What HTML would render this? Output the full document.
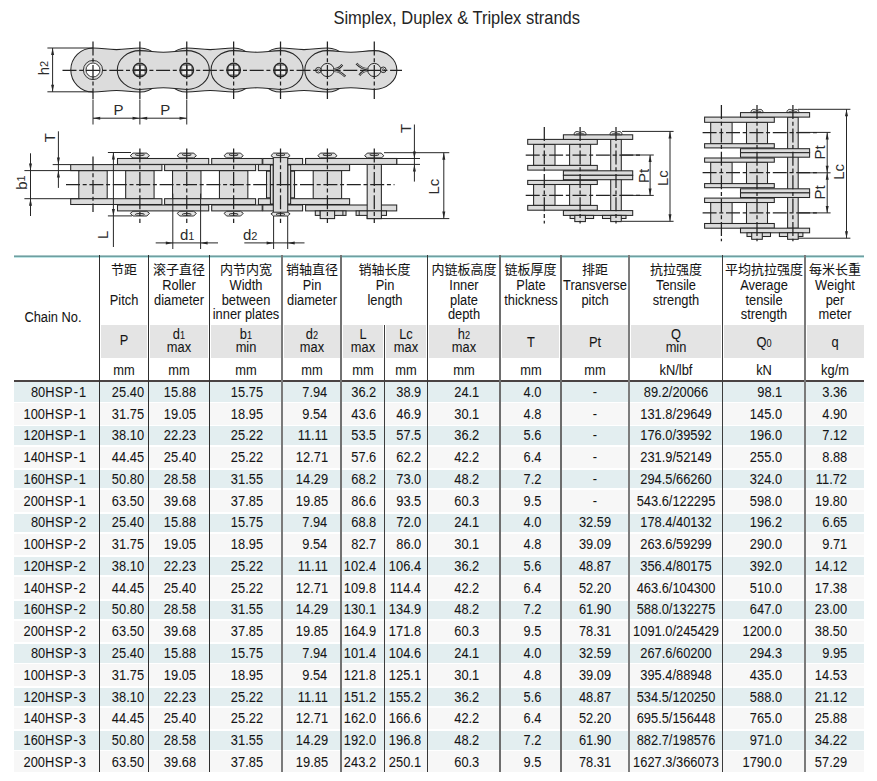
<!DOCTYPE html>
<html><head><meta charset="utf-8"><title>Simplex, Duplex &amp; Triplex strands</title>
<style>
html,body{margin:0;padding:0;background:#fff}
body{width:877px;height:781px;position:relative;overflow:hidden;font-family:"Liberation Sans", "Noto Sans CJK SC", sans-serif;color:#141414}
.t,.tc{-webkit-text-stroke:0.05px #1e1e1e}
.t{position:absolute;white-space:nowrap;font-size:14.0px;line-height:16px;height:16px;transform:scaleX(0.918);transform-origin:50% 50%}
.t.rr{transform-origin:100% 50%}
.t.ll{transform-origin:0 50%}
.tc{position:absolute;white-space:nowrap;font-size:13px;line-height:16px;height:16px}
.r{position:absolute}
.s{font-size:10px}
</style></head><body>
<svg width="877" height="258" viewBox="0 0 877 258" style="position:absolute;left:0;top:0" font-family='"Liberation Sans", sans-serif' fill="#2b2b2b"><text x="0" y="0" font-size="17.5" fill="#242424" transform="translate(333.4,23.6) scale(0.943,1)">Simplex, Duplex &amp; Triplex strands</text>
<path d="M93.00,48.00 C103.00,48.00 106.44,49.60 116.44,49.60 C126.44,49.60 129.88,48.00 139.88,48.00 A22.20,22.00 0 0 1 139.88,92.00 C129.88,92.00 126.44,90.40 116.44,90.40 C106.44,90.40 103.00,92.00 93.00,92.00 A22.20,22.00 0 0 1 93.00,48.00 Z" fill="#dcdcdc" stroke="#262626" stroke-width="1.05"/>
<path d="M186.76,48.00 C196.76,48.00 200.20,49.60 210.20,49.60 C220.20,49.60 223.64,48.00 233.64,48.00 A22.20,22.00 0 0 1 233.64,92.00 C223.64,92.00 220.20,90.40 210.20,90.40 C200.20,90.40 196.76,92.00 186.76,92.00 A22.20,22.00 0 0 1 186.76,48.00 Z" fill="#dcdcdc" stroke="#262626" stroke-width="1.05"/>
<path d="M280.52,48.00 C290.52,48.00 293.96,49.60 303.96,49.60 C313.96,49.60 317.40,48.00 327.40,48.00 A22.20,22.00 0 0 1 327.40,92.00 C317.40,92.00 313.96,90.40 303.96,90.40 C293.96,90.40 290.52,92.00 280.52,92.00 A22.20,22.00 0 0 1 280.52,48.00 Z" fill="#dcdcdc" stroke="#262626" stroke-width="1.05"/>
<path d="M139.88,50.60 C149.88,50.60 153.32,52.20 163.32,52.20 C173.32,52.20 176.76,50.60 186.76,50.60 A22.60,19.40 0 0 1 186.76,89.40 C176.76,89.40 173.32,87.80 163.32,87.80 C153.32,87.80 149.88,89.40 139.88,89.40 A22.60,19.40 0 0 1 139.88,50.60 Z" fill="#dcdcdc" stroke="#262626" stroke-width="1.05"/>
<path d="M233.64,50.60 C243.64,50.60 247.08,52.20 257.08,52.20 C267.08,52.20 270.52,50.60 280.52,50.60 A22.60,19.40 0 0 1 280.52,89.40 C270.52,89.40 267.08,87.80 257.08,87.80 C247.08,87.80 243.64,89.40 233.64,89.40 A22.60,19.40 0 0 1 233.64,50.60 Z" fill="#dcdcdc" stroke="#262626" stroke-width="1.05"/>
<path d="M327.40,50.60 C337.40,50.60 340.84,52.20 350.84,52.20 C360.84,52.20 364.28,50.60 374.28,50.60 A22.60,19.40 0 0 1 374.28,89.40 C364.28,89.40 360.84,87.80 350.84,87.80 C340.84,87.80 337.40,89.40 327.40,89.40 A22.60,19.40 0 0 1 327.40,50.60 Z" fill="#dcdcdc" stroke="#262626" stroke-width="1.05"/>
<circle cx="93.00" cy="70.0" r="9.6" fill="#dcdcdc" stroke="#262626" stroke-width="0.9"/>
<circle cx="93.00" cy="70.0" r="7.0" fill="#fff" stroke="#262626" stroke-width="0.9"/>
<circle cx="139.88" cy="70.0" r="6.8" fill="#8a8a8a" stroke="#262626" stroke-width="1.3"/>
<rect x="135.43" y="65.85" width="3.9" height="3.7" fill="#ededed"/>
<rect x="135.43" y="70.55" width="3.9" height="3.7" fill="#ededed"/>
<rect x="140.43" y="65.85" width="3.9" height="3.7" fill="#ededed"/>
<rect x="140.43" y="70.55" width="3.9" height="3.7" fill="#ededed"/>
<path d="M133.38,70.0 H146.38 M139.88,63.5 V76.5" stroke="#262626" stroke-width="1.0"/>
<circle cx="186.76" cy="70.0" r="6.8" fill="#8a8a8a" stroke="#262626" stroke-width="1.3"/>
<rect x="182.31" y="65.85" width="3.9" height="3.7" fill="#ededed"/>
<rect x="182.31" y="70.55" width="3.9" height="3.7" fill="#ededed"/>
<rect x="187.31" y="65.85" width="3.9" height="3.7" fill="#ededed"/>
<rect x="187.31" y="70.55" width="3.9" height="3.7" fill="#ededed"/>
<path d="M180.26,70.0 H193.26 M186.76,63.5 V76.5" stroke="#262626" stroke-width="1.0"/>
<circle cx="233.64" cy="70.0" r="6.8" fill="#8a8a8a" stroke="#262626" stroke-width="1.3"/>
<rect x="229.19" y="65.85" width="3.9" height="3.7" fill="#ededed"/>
<rect x="229.19" y="70.55" width="3.9" height="3.7" fill="#ededed"/>
<rect x="234.19" y="65.85" width="3.9" height="3.7" fill="#ededed"/>
<rect x="234.19" y="70.55" width="3.9" height="3.7" fill="#ededed"/>
<path d="M227.14,70.0 H240.14 M233.64,63.5 V76.5" stroke="#262626" stroke-width="1.0"/>
<circle cx="280.52" cy="70.0" r="6.8" fill="#8a8a8a" stroke="#262626" stroke-width="1.3"/>
<rect x="276.07" y="65.85" width="3.9" height="3.7" fill="#ededed"/>
<rect x="276.07" y="70.55" width="3.9" height="3.7" fill="#ededed"/>
<rect x="281.07" y="65.85" width="3.9" height="3.7" fill="#ededed"/>
<rect x="281.07" y="70.55" width="3.9" height="3.7" fill="#ededed"/>
<path d="M274.02,70.0 H287.02 M280.52,63.5 V76.5" stroke="#262626" stroke-width="1.0"/>
<circle cx="327.40" cy="70.0" r="6.6" fill="#e2e2e2" stroke="#262626" stroke-width="1.0"/>
<circle cx="374.28" cy="70.0" r="6.6" fill="#e2e2e2" stroke="#262626" stroke-width="1.0"/>
<circle cx="318.40" cy="70.2" r="2.8" fill="#ececec" stroke="#262626" stroke-width="1.0"/><circle cx="318.40" cy="70.2" r="1.1" fill="none" stroke="#262626" stroke-width="0.8"/><path d="M333.60,69.30 Q338.90,69.40 342.30,64.80 M333.60,70.80 Q339.90,70.80 345.30,76.50" fill="none" stroke="#262626" stroke-width="2.3"/><path d="M333.60,69.30 Q338.90,69.40 342.30,64.80 M333.60,70.80 Q339.90,70.80 345.30,76.50" fill="none" stroke="#e8e8e8" stroke-width="0.7"/>
<g transform="rotate(180 350.84 70.0)"><circle cx="318.40" cy="70.2" r="2.8" fill="#ececec" stroke="#262626" stroke-width="1.0"/><circle cx="318.40" cy="70.2" r="1.1" fill="none" stroke="#262626" stroke-width="0.8"/><path d="M333.60,69.30 Q338.90,69.40 342.30,64.80 M333.60,70.80 Q339.90,70.80 345.30,76.50" fill="none" stroke="#262626" stroke-width="2.3"/><path d="M333.60,69.30 Q338.90,69.40 342.30,64.80 M333.60,70.80 Q339.90,70.80 345.30,76.50" fill="none" stroke="#e8e8e8" stroke-width="0.7"/></g>
<line x1="62.50" y1="70.35" x2="402.00" y2="70.35" stroke="#222" stroke-width="1.25" stroke-dasharray="14,2.7,4,2.7"/>
<line x1="93.00" y1="41.50" x2="93.00" y2="99.00" stroke="#222" stroke-width="1.25" stroke-dasharray="14,2.7,4,2.7"/>
<line x1="139.88" y1="41.50" x2="139.88" y2="99.00" stroke="#222" stroke-width="1.25" stroke-dasharray="14,2.7,4,2.7"/>
<line x1="186.76" y1="41.50" x2="186.76" y2="99.00" stroke="#222" stroke-width="1.25" stroke-dasharray="14,2.7,4,2.7"/>
<line x1="233.64" y1="41.50" x2="233.64" y2="99.00" stroke="#222" stroke-width="1.25" stroke-dasharray="14,2.7,4,2.7"/>
<line x1="280.52" y1="41.50" x2="280.52" y2="99.00" stroke="#222" stroke-width="1.25" stroke-dasharray="14,2.7,4,2.7"/>
<line x1="327.40" y1="41.50" x2="327.40" y2="99.00" stroke="#222" stroke-width="1.25" stroke-dasharray="14,2.7,4,2.7"/>
<line x1="374.28" y1="41.50" x2="374.28" y2="99.00" stroke="#222" stroke-width="1.25" stroke-dasharray="14,2.7,4,2.7"/>
<line x1="47.40" y1="48.00" x2="93.00" y2="48.00" stroke="#262626" stroke-width="1.0"/>
<line x1="47.40" y1="91.80" x2="93.00" y2="91.80" stroke="#262626" stroke-width="1.0"/>
<line x1="52.60" y1="48.00" x2="52.60" y2="91.80" stroke="#262626" stroke-width="1.0"/>
<path d="M52.60,48.00 L54.10,55.00 L51.10,55.00 Z" fill="#262626"/>
<path d="M52.60,91.80 L51.10,84.80 L54.10,84.80 Z" fill="#262626"/>
<text x="0" y="0" font-size="15" text-anchor="middle" dominant-baseline="central" transform="translate(43.50,68.00) rotate(-90)">h<tspan font-size="11">2</tspan></text>
<line x1="93.00" y1="99.50" x2="93.00" y2="124.50" stroke="#262626" stroke-width="1.0"/>
<line x1="139.88" y1="99.50" x2="139.88" y2="124.50" stroke="#262626" stroke-width="1.0"/>
<line x1="186.76" y1="99.50" x2="186.76" y2="124.50" stroke="#262626" stroke-width="1.0"/>
<line x1="93.00" y1="118.20" x2="186.76" y2="118.20" stroke="#262626" stroke-width="1.0"/>
<path d="M93.20,118.20 L100.20,116.70 L100.20,119.70 Z" fill="#262626"/>
<path d="M139.58,118.20 L132.58,119.70 L132.58,116.70 Z" fill="#262626"/>
<path d="M140.18,118.20 L147.18,116.70 L147.18,119.70 Z" fill="#262626"/>
<path d="M186.56,118.20 L179.56,119.70 L179.56,116.70 Z" fill="#262626"/>
<text x="118.44" y="114.80" font-size="15" text-anchor="middle">P</text>
<text x="165.32" y="114.80" font-size="15" text-anchor="middle">P</text>
<rect x="78.80" y="170.60" width="28.40" height="28.10" fill="#dcdcdc" stroke="#262626" stroke-width="1.05"/>
<rect x="125.68" y="170.60" width="28.40" height="28.10" fill="#dcdcdc" stroke="#262626" stroke-width="1.05"/>
<rect x="172.56" y="170.60" width="28.40" height="28.10" fill="#dcdcdc" stroke="#262626" stroke-width="1.05"/>
<rect x="219.44" y="170.60" width="28.40" height="28.10" fill="#dcdcdc" stroke="#262626" stroke-width="1.05"/>
<rect x="313.20" y="170.60" width="28.40" height="28.10" fill="#dcdcdc" stroke="#262626" stroke-width="1.05"/>
<rect x="70.70" y="164.60" width="91.20" height="6.00" fill="#dcdcdc" stroke="#262626" stroke-width="1.05"/>
<rect x="70.70" y="198.70" width="91.20" height="5.80" fill="#dcdcdc" stroke="#262626" stroke-width="1.05"/>
<rect x="164.60" y="164.60" width="91.00" height="6.00" fill="#dcdcdc" stroke="#262626" stroke-width="1.05"/>
<rect x="164.60" y="198.70" width="91.00" height="5.80" fill="#dcdcdc" stroke="#262626" stroke-width="1.05"/>
<rect x="258.40" y="164.60" width="91.20" height="6.00" fill="#dcdcdc" stroke="#262626" stroke-width="1.05"/>
<rect x="258.40" y="198.70" width="91.20" height="5.80" fill="#dcdcdc" stroke="#262626" stroke-width="1.05"/>
<rect x="117.50" y="158.50" width="91.20" height="5.90" fill="#dcdcdc" stroke="#262626" stroke-width="1.05"/>
<rect x="117.50" y="205.00" width="91.20" height="5.90" fill="#dcdcdc" stroke="#262626" stroke-width="1.05"/>
<rect x="211.70" y="158.50" width="50.50" height="5.90" fill="#dcdcdc" stroke="#262626" stroke-width="1.05"/>
<rect x="211.70" y="205.00" width="50.50" height="5.90" fill="#dcdcdc" stroke="#262626" stroke-width="1.05"/>
<rect x="262.80" y="158.50" width="39.80" height="5.90" fill="#dcdcdc" stroke="#262626" stroke-width="1.05"/>
<rect x="262.80" y="205.00" width="39.80" height="5.90" fill="#dcdcdc" stroke="#262626" stroke-width="1.05"/>
<rect x="305.60" y="158.50" width="91.10" height="5.90" fill="#dcdcdc" stroke="#262626" stroke-width="1.05"/>
<rect x="305.60" y="205.00" width="91.10" height="5.90" fill="#dcdcdc" stroke="#262626" stroke-width="1.05"/>
<rect x="266.52" y="171.20" width="3.90" height="26.60" fill="#dcdcdc" stroke="#262626" stroke-width="1.05"/>
<rect x="290.62" y="171.20" width="3.90" height="26.60" fill="#dcdcdc" stroke="#262626" stroke-width="1.05"/>
<rect x="270.42" y="165.00" width="2.90" height="39.00" fill="#dcdcdc" stroke="#262626" stroke-width="1.05"/>
<rect x="287.72" y="165.00" width="2.90" height="39.00" fill="#dcdcdc" stroke="#262626" stroke-width="1.05"/>
<rect x="273.32" y="155.50" width="14.40" height="58.10" fill="#dcdcdc" stroke="#262626" stroke-width="1.05"/>
<path d="M130.28,155.80 L132.88,153.10 L146.88,153.10 L149.48,155.80 L146.88,157.90 L132.88,157.90 Z" fill="#e4e4e4" stroke="#262626" stroke-width="0.95"/>
<ellipse cx="139.88" cy="154.70" rx="4.5" ry="1.0" fill="#f4f4f4" stroke="#262626" stroke-width="0.9"/>
<path d="M177.16,155.80 L179.76,153.10 L193.76,153.10 L196.36,155.80 L193.76,157.90 L179.76,157.90 Z" fill="#e4e4e4" stroke="#262626" stroke-width="0.95"/>
<ellipse cx="186.76" cy="154.70" rx="4.5" ry="1.0" fill="#f4f4f4" stroke="#262626" stroke-width="0.9"/>
<path d="M224.04,155.80 L226.64,153.10 L240.64,153.10 L243.24,155.80 L240.64,157.90 L226.64,157.90 Z" fill="#e4e4e4" stroke="#262626" stroke-width="0.95"/>
<ellipse cx="233.64" cy="154.70" rx="4.5" ry="1.0" fill="#f4f4f4" stroke="#262626" stroke-width="0.9"/>
<path d="M317.80,155.80 L320.40,153.10 L334.40,153.10 L337.00,155.80 L334.40,157.90 L320.40,157.90 Z" fill="#e4e4e4" stroke="#262626" stroke-width="0.95"/>
<ellipse cx="327.40" cy="154.70" rx="4.5" ry="1.0" fill="#f4f4f4" stroke="#262626" stroke-width="0.9"/>
<path d="M364.68,155.80 L367.28,153.10 L381.28,153.10 L383.88,155.80 L381.28,157.90 L367.28,157.90 Z" fill="#e4e4e4" stroke="#262626" stroke-width="0.95"/>
<ellipse cx="374.28" cy="154.70" rx="4.5" ry="1.0" fill="#f4f4f4" stroke="#262626" stroke-width="0.9"/>
<path d="M130.28,213.35 L132.88,211.30 L146.88,211.30 L149.48,213.35 L146.88,216.00 L132.88,216.00 Z" fill="#e4e4e4" stroke="#262626" stroke-width="0.95"/>
<ellipse cx="139.88" cy="214.40" rx="4.5" ry="1.0" fill="#f4f4f4" stroke="#262626" stroke-width="0.9"/>
<path d="M177.16,213.35 L179.76,211.30 L193.76,211.30 L196.36,213.35 L193.76,216.00 L179.76,216.00 Z" fill="#e4e4e4" stroke="#262626" stroke-width="0.95"/>
<ellipse cx="186.76" cy="214.40" rx="4.5" ry="1.0" fill="#f4f4f4" stroke="#262626" stroke-width="0.9"/>
<path d="M224.04,213.35 L226.64,211.30 L240.64,211.30 L243.24,213.35 L240.64,216.00 L226.64,216.00 Z" fill="#e4e4e4" stroke="#262626" stroke-width="0.95"/>
<ellipse cx="233.64" cy="214.40" rx="4.5" ry="1.0" fill="#f4f4f4" stroke="#262626" stroke-width="0.9"/>
<path d="M270.92,155.65 L273.52,153.10 L287.52,153.10 L290.12,155.65 L287.52,157.60 L273.52,157.60 Z" fill="#e4e4e4" stroke="#262626" stroke-width="0.95"/>
<ellipse cx="280.52" cy="154.70" rx="4.5" ry="1.0" fill="#f4f4f4" stroke="#262626" stroke-width="0.9"/>
<path d="M270.92,213.80 L273.52,212.20 L287.52,212.20 L290.12,213.80 L287.52,216.00 L273.52,216.00 Z" fill="#e4e4e4" stroke="#262626" stroke-width="0.95"/>
<ellipse cx="280.52" cy="214.40" rx="4.5" ry="1.0" fill="#f4f4f4" stroke="#262626" stroke-width="0.9"/>
<rect x="367.18" y="164.40" width="14.20" height="54.20" fill="#dcdcdc" stroke="#262626" stroke-width="1.05"/>
<rect x="305.60" y="158.50" width="91.10" height="5.90" fill="#dcdcdc" stroke="#262626" stroke-width="1.05"/>
<rect x="315.30" y="210.90" width="30.70" height="4.50" fill="#dcdcdc" stroke="#262626" stroke-width="1.05"/>
<line x1="320.20" y1="210.90" x2="320.20" y2="215.40" stroke="#262626" stroke-width="1.0"/>
<line x1="342.90" y1="210.90" x2="342.90" y2="215.40" stroke="#262626" stroke-width="1.0"/>
<rect x="320.20" y="210.90" width="14.40" height="7.70" fill="#dcdcdc" stroke="#262626" stroke-width="1.05"/>
<rect x="356.10" y="210.90" width="30.40" height="4.50" fill="#dcdcdc" stroke="#262626" stroke-width="1.05"/>
<line x1="359.20" y1="210.90" x2="359.20" y2="215.40" stroke="#262626" stroke-width="1.0"/>
<rect x="367.18" y="210.90" width="14.20" height="7.70" fill="#dcdcdc" stroke="#262626" stroke-width="1.05"/>
<line x1="66.00" y1="184.60" x2="394.50" y2="184.60" stroke="#222" stroke-width="1.25" stroke-dasharray="14,2.7,4,2.7"/>
<line x1="93.00" y1="156.60" x2="93.00" y2="212.00" stroke="#222" stroke-width="1.25" stroke-dasharray="14,2.7,4,2.7"/>
<line x1="139.88" y1="148.50" x2="139.88" y2="223.00" stroke="#222" stroke-width="1.25" stroke-dasharray="14,2.7,4,2.7"/>
<line x1="186.76" y1="148.50" x2="186.76" y2="223.00" stroke="#222" stroke-width="1.25" stroke-dasharray="14,2.7,4,2.7"/>
<line x1="233.64" y1="148.50" x2="233.64" y2="223.00" stroke="#222" stroke-width="1.25" stroke-dasharray="14,2.7,4,2.7"/>
<line x1="280.52" y1="148.50" x2="280.52" y2="223.00" stroke="#222" stroke-width="1.25" stroke-dasharray="14,2.7,4,2.7"/>
<line x1="327.40" y1="148.50" x2="327.40" y2="223.00" stroke="#222" stroke-width="1.25" stroke-dasharray="14,2.7,4,2.7"/>
<line x1="374.28" y1="148.50" x2="374.28" y2="223.00" stroke="#222" stroke-width="1.25" stroke-dasharray="14,2.7,4,2.7"/>
<line x1="52.70" y1="164.60" x2="70.70" y2="164.60" stroke="#262626" stroke-width="1.0"/>
<line x1="24.40" y1="170.60" x2="80.00" y2="170.60" stroke="#262626" stroke-width="1.0"/>
<line x1="24.40" y1="198.70" x2="80.00" y2="198.70" stroke="#262626" stroke-width="1.0"/>
<line x1="58.40" y1="131.30" x2="58.40" y2="187.90" stroke="#262626" stroke-width="1.0"/>
<path d="M58.40,164.60 L56.90,157.60 L59.90,157.60 Z" fill="#262626"/>
<path d="M58.40,170.60 L59.90,177.60 L56.90,177.60 Z" fill="#262626"/>
<text x="0" y="0" font-size="15" text-anchor="middle" dominant-baseline="central" transform="translate(49.50,137.60) rotate(-90)">T</text>
<line x1="30.50" y1="153.30" x2="30.50" y2="216.00" stroke="#262626" stroke-width="1.0"/>
<path d="M30.50,170.60 L29.00,163.60 L32.00,163.60 Z" fill="#262626"/>
<path d="M30.50,198.70 L32.00,205.70 L29.00,205.70 Z" fill="#262626"/>
<text x="0" y="0" font-size="15" text-anchor="middle" dominant-baseline="central" transform="translate(21.20,182.60) rotate(-90)">b<tspan font-size="11">1</tspan></text>
<line x1="107.90" y1="152.50" x2="131.00" y2="152.50" stroke="#262626" stroke-width="1.0"/>
<line x1="107.90" y1="215.90" x2="132.00" y2="215.90" stroke="#262626" stroke-width="1.0"/>
<line x1="113.40" y1="152.50" x2="113.40" y2="247.00" stroke="#262626" stroke-width="1.0"/>
<path d="M113.40,152.50 L114.90,159.50 L111.90,159.50 Z" fill="#262626"/>
<path d="M113.40,215.90 L111.90,208.90 L114.90,208.90 Z" fill="#262626"/>
<text x="0" y="0" font-size="15" text-anchor="middle" dominant-baseline="central" transform="translate(102.50,234.80) rotate(-90)">L</text>
<line x1="172.80" y1="193.60" x2="172.80" y2="249.00" stroke="#262626" stroke-width="1.0"/>
<line x1="200.60" y1="193.60" x2="200.60" y2="249.00" stroke="#262626" stroke-width="1.0"/>
<line x1="155.70" y1="242.90" x2="218.00" y2="242.90" stroke="#262626" stroke-width="1.0"/>
<path d="M172.80,242.90 L165.80,244.40 L165.80,241.40 Z" fill="#262626"/>
<path d="M200.60,242.90 L207.60,241.40 L207.60,244.40 Z" fill="#262626"/>
<text x="187.20" y="239.70" font-size="15" text-anchor="middle">d<tspan font-size="11">1</tspan></text>
<line x1="273.60" y1="216.00" x2="273.60" y2="249.00" stroke="#262626" stroke-width="1.0"/>
<line x1="287.70" y1="216.00" x2="287.70" y2="249.00" stroke="#262626" stroke-width="1.0"/>
<line x1="244.30" y1="242.90" x2="304.50" y2="242.90" stroke="#262626" stroke-width="1.0"/>
<path d="M273.60,242.90 L266.60,244.40 L266.60,241.40 Z" fill="#262626"/>
<path d="M287.70,242.90 L294.70,241.40 L294.70,244.40 Z" fill="#262626"/>
<text x="250.20" y="239.70" font-size="15" text-anchor="middle">d<tspan font-size="11">2</tspan></text>
<line x1="397.00" y1="158.50" x2="420.00" y2="158.50" stroke="#262626" stroke-width="1.0"/>
<line x1="397.00" y1="164.40" x2="420.00" y2="164.40" stroke="#262626" stroke-width="1.0"/>
<line x1="414.40" y1="124.50" x2="414.40" y2="181.60" stroke="#262626" stroke-width="1.0"/>
<path d="M414.40,158.50 L412.90,151.50 L415.90,151.50 Z" fill="#262626"/>
<path d="M414.40,164.40 L415.90,171.40 L412.90,171.40 Z" fill="#262626"/>
<text x="0" y="0" font-size="15" text-anchor="middle" dominant-baseline="central" transform="translate(405.30,128.40) rotate(-90)">T</text>
<line x1="384.00" y1="152.70" x2="449.30" y2="152.70" stroke="#262626" stroke-width="1.0"/>
<line x1="381.70" y1="218.60" x2="449.30" y2="218.60" stroke="#262626" stroke-width="1.0"/>
<line x1="443.80" y1="152.70" x2="443.80" y2="218.60" stroke="#262626" stroke-width="1.0"/>
<path d="M443.80,152.70 L445.30,159.70 L442.30,159.70 Z" fill="#262626"/>
<path d="M443.80,218.60 L442.30,211.60 L445.30,211.60 Z" fill="#262626"/>
<text x="0" y="0" font-size="15" text-anchor="middle" dominant-baseline="central" transform="translate(433.00,186.70) rotate(-90)">Lc</text>
<rect x="533.60" y="144.30" width="21.40" height="21.10" fill="#dcdcdc" stroke="#262626" stroke-width="1.05"/>
<rect x="569.60" y="144.30" width="21.00" height="21.10" fill="#dcdcdc" stroke="#262626" stroke-width="1.05"/>
<rect x="533.60" y="184.50" width="21.40" height="20.90" fill="#dcdcdc" stroke="#262626" stroke-width="1.05"/>
<rect x="569.60" y="184.50" width="21.00" height="20.90" fill="#dcdcdc" stroke="#262626" stroke-width="1.05"/>
<rect x="527.70" y="139.40" width="69.60" height="4.90" fill="#dcdcdc" stroke="#262626" stroke-width="1.05"/>
<rect x="527.70" y="165.40" width="69.60" height="4.70" fill="#dcdcdc" stroke="#262626" stroke-width="1.05"/>
<rect x="527.70" y="180.40" width="69.60" height="4.10" fill="#dcdcdc" stroke="#262626" stroke-width="1.05"/>
<rect x="527.70" y="205.40" width="69.60" height="4.80" fill="#dcdcdc" stroke="#262626" stroke-width="1.05"/>
<rect x="610.70" y="139.40" width="10.60" height="71.20" fill="#dcdcdc" stroke="#262626" stroke-width="1.05"/>
<rect x="563.40" y="134.80" width="69.30" height="4.60" fill="#dcdcdc" stroke="#262626" stroke-width="1.05"/>
<rect x="563.40" y="170.80" width="69.30" height="4.50" fill="#dcdcdc" stroke="#262626" stroke-width="1.05"/>
<rect x="563.40" y="175.30" width="69.30" height="4.40" fill="#dcdcdc" stroke="#262626" stroke-width="1.05"/>
<rect x="563.40" y="210.60" width="69.30" height="4.80" fill="#dcdcdc" stroke="#262626" stroke-width="1.05"/>
<path d="M574.20,134.80 C573.80,131.30 577.50,130.80 579.50,132.30 L580.70,132.30 C582.70,130.80 586.40,131.30 586.00,134.80 Z" fill="#ededed" stroke="#262626" stroke-width="1.0"/>
<path d="M575.90,133.90 Q580.10,132.60 584.30,133.90" fill="none" stroke="#262626" stroke-width="0.7"/>
<path d="M610.10,134.80 C609.70,131.30 613.40,130.80 615.40,132.30 L616.60,132.30 C618.60,130.80 622.30,131.30 621.90,134.80 Z" fill="#ededed" stroke="#262626" stroke-width="1.0"/>
<path d="M611.80,133.90 Q616.00,132.60 620.20,133.90" fill="none" stroke="#262626" stroke-width="0.7"/>
<rect x="570.10" y="215.40" width="23.50" height="3.10" fill="#dcdcdc" stroke="#262626" stroke-width="1.05"/>
<rect x="574.80" y="215.40" width="10.60" height="6.20" fill="#dcdcdc" stroke="#262626" stroke-width="1.05"/>
<rect x="602.50" y="215.40" width="23.50" height="3.10" fill="#dcdcdc" stroke="#262626" stroke-width="1.05"/>
<rect x="610.70" y="215.40" width="10.60" height="6.20" fill="#dcdcdc" stroke="#262626" stroke-width="1.05"/>
<line x1="525.70" y1="155.00" x2="642.70" y2="155.00" stroke="#222" stroke-width="1.25" stroke-dasharray="14,2.7,4,2.7"/>
<line x1="525.70" y1="195.40" x2="642.70" y2="195.40" stroke="#222" stroke-width="1.25" stroke-dasharray="14,2.7,4,2.7"/>
<line x1="544.30" y1="127.10" x2="544.30" y2="223.60" stroke="#222" stroke-width="1.25" stroke-dasharray="14,2.7,4,2.7"/>
<line x1="580.10" y1="127.10" x2="580.10" y2="223.60" stroke="#222" stroke-width="1.25" stroke-dasharray="14,2.7,4,2.7"/>
<line x1="616.00" y1="127.10" x2="616.00" y2="223.60" stroke="#222" stroke-width="1.25" stroke-dasharray="14,2.7,4,2.7"/>
<line x1="622.00" y1="131.40" x2="673.60" y2="131.40" stroke="#262626" stroke-width="1.0"/>
<line x1="622.00" y1="221.30" x2="673.60" y2="221.30" stroke="#262626" stroke-width="1.0"/>
<line x1="670.00" y1="131.40" x2="670.00" y2="221.30" stroke="#262626" stroke-width="1.0"/>
<path d="M670.00,131.40 L671.50,138.40 L668.50,138.40 Z" fill="#262626"/>
<path d="M670.00,221.30 L668.50,214.30 L671.50,214.30 Z" fill="#262626"/>
<text x="0" y="0" font-size="15" text-anchor="middle" dominant-baseline="central" transform="translate(662.00,178.20) rotate(-90)">Lc</text>
<line x1="622.00" y1="155.00" x2="653.80" y2="155.00" stroke="#262626" stroke-width="1.0"/>
<line x1="622.00" y1="195.40" x2="653.80" y2="195.40" stroke="#262626" stroke-width="1.0"/>
<line x1="650.10" y1="155.00" x2="650.10" y2="195.40" stroke="#262626" stroke-width="1.0"/>
<path d="M650.10,155.00 L651.60,162.00 L648.60,162.00 Z" fill="#262626"/>
<path d="M650.10,195.40 L648.60,188.40 L651.60,188.40 Z" fill="#262626"/>
<text x="0" y="0" font-size="15" text-anchor="middle" dominant-baseline="central" transform="translate(643.30,176.00) rotate(-90)">Pt</text>
<rect x="710.70" y="122.30" width="21.40" height="21.40" fill="#dcdcdc" stroke="#262626" stroke-width="1.05"/>
<rect x="746.50" y="122.30" width="21.00" height="21.40" fill="#dcdcdc" stroke="#262626" stroke-width="1.05"/>
<rect x="710.70" y="162.20" width="21.40" height="21.40" fill="#dcdcdc" stroke="#262626" stroke-width="1.05"/>
<rect x="746.50" y="162.20" width="21.00" height="21.40" fill="#dcdcdc" stroke="#262626" stroke-width="1.05"/>
<rect x="710.70" y="202.50" width="21.40" height="21.00" fill="#dcdcdc" stroke="#262626" stroke-width="1.05"/>
<rect x="746.50" y="202.50" width="21.00" height="21.00" fill="#dcdcdc" stroke="#262626" stroke-width="1.05"/>
<rect x="704.60" y="117.10" width="69.70" height="5.20" fill="#dcdcdc" stroke="#262626" stroke-width="1.05"/>
<rect x="704.60" y="143.70" width="69.70" height="4.20" fill="#dcdcdc" stroke="#262626" stroke-width="1.05"/>
<rect x="704.60" y="158.00" width="69.70" height="4.20" fill="#dcdcdc" stroke="#262626" stroke-width="1.05"/>
<rect x="704.60" y="183.60" width="69.70" height="4.10" fill="#dcdcdc" stroke="#262626" stroke-width="1.05"/>
<rect x="704.60" y="198.10" width="69.70" height="4.40" fill="#dcdcdc" stroke="#262626" stroke-width="1.05"/>
<rect x="704.60" y="223.50" width="69.70" height="4.70" fill="#dcdcdc" stroke="#262626" stroke-width="1.05"/>
<rect x="787.60" y="117.10" width="10.60" height="111.10" fill="#dcdcdc" stroke="#262626" stroke-width="1.05"/>
<rect x="740.50" y="112.60" width="69.10" height="4.50" fill="#dcdcdc" stroke="#262626" stroke-width="1.05"/>
<rect x="740.50" y="148.70" width="69.10" height="4.00" fill="#dcdcdc" stroke="#262626" stroke-width="1.05"/>
<rect x="740.50" y="152.70" width="69.10" height="4.50" fill="#dcdcdc" stroke="#262626" stroke-width="1.05"/>
<rect x="740.50" y="188.80" width="69.10" height="4.10" fill="#dcdcdc" stroke="#262626" stroke-width="1.05"/>
<rect x="740.50" y="192.90" width="69.10" height="4.60" fill="#dcdcdc" stroke="#262626" stroke-width="1.05"/>
<rect x="740.50" y="228.20" width="69.10" height="4.60" fill="#dcdcdc" stroke="#262626" stroke-width="1.05"/>
<path d="M751.10,112.60 C750.70,109.20 754.40,108.70 756.40,110.20 L757.60,110.20 C759.60,108.70 763.30,109.20 762.90,112.60 Z" fill="#ededed" stroke="#262626" stroke-width="1.0"/>
<path d="M752.80,111.70 Q757.00,110.40 761.20,111.70" fill="none" stroke="#262626" stroke-width="0.7"/>
<path d="M787.00,112.60 C786.60,109.20 790.30,108.70 792.30,110.20 L793.50,110.20 C795.50,108.70 799.20,109.20 798.80,112.60 Z" fill="#ededed" stroke="#262626" stroke-width="1.0"/>
<path d="M788.70,111.70 Q792.90,110.40 797.10,111.70" fill="none" stroke="#262626" stroke-width="0.7"/>
<rect x="747.00" y="232.80" width="23.50" height="3.70" fill="#dcdcdc" stroke="#262626" stroke-width="1.05"/>
<rect x="751.70" y="232.80" width="10.60" height="6.50" fill="#dcdcdc" stroke="#262626" stroke-width="1.05"/>
<rect x="779.40" y="232.80" width="23.50" height="3.70" fill="#dcdcdc" stroke="#262626" stroke-width="1.05"/>
<rect x="787.60" y="232.80" width="10.60" height="6.50" fill="#dcdcdc" stroke="#262626" stroke-width="1.05"/>
<line x1="702.60" y1="132.50" x2="819.60" y2="132.50" stroke="#222" stroke-width="1.25" stroke-dasharray="14,2.7,4,2.7"/>
<line x1="702.60" y1="172.50" x2="819.60" y2="172.50" stroke="#222" stroke-width="1.25" stroke-dasharray="14,2.7,4,2.7"/>
<line x1="702.60" y1="212.90" x2="819.60" y2="212.90" stroke="#222" stroke-width="1.25" stroke-dasharray="14,2.7,4,2.7"/>
<line x1="721.40" y1="105.00" x2="721.40" y2="241.30" stroke="#222" stroke-width="1.25" stroke-dasharray="14,2.7,4,2.7"/>
<line x1="757.00" y1="105.00" x2="757.00" y2="241.30" stroke="#222" stroke-width="1.25" stroke-dasharray="14,2.7,4,2.7"/>
<line x1="792.90" y1="105.00" x2="792.90" y2="241.30" stroke="#222" stroke-width="1.25" stroke-dasharray="14,2.7,4,2.7"/>
<line x1="798.00" y1="109.30" x2="850.40" y2="109.30" stroke="#262626" stroke-width="1.0"/>
<line x1="798.00" y1="238.20" x2="850.40" y2="238.20" stroke="#262626" stroke-width="1.0"/>
<line x1="846.50" y1="109.30" x2="846.50" y2="238.20" stroke="#262626" stroke-width="1.0"/>
<path d="M846.50,109.30 L848.00,116.30 L845.00,116.30 Z" fill="#262626"/>
<path d="M846.50,238.20 L845.00,231.20 L848.00,231.20 Z" fill="#262626"/>
<text x="0" y="0" font-size="15" text-anchor="middle" dominant-baseline="central" transform="translate(838.50,171.80) rotate(-90)">Lc</text>
<line x1="799.00" y1="132.40" x2="830.60" y2="132.40" stroke="#262626" stroke-width="1.0"/>
<line x1="799.00" y1="172.80" x2="830.60" y2="172.80" stroke="#262626" stroke-width="1.0"/>
<line x1="799.00" y1="212.90" x2="830.60" y2="212.90" stroke="#262626" stroke-width="1.0"/>
<line x1="827.20" y1="132.40" x2="827.20" y2="212.90" stroke="#262626" stroke-width="1.0"/>
<path d="M827.20,132.40 L828.70,139.40 L825.70,139.40 Z" fill="#262626"/>
<path d="M827.20,172.80 L825.70,165.80 L828.70,165.80 Z" fill="#262626"/>
<path d="M827.20,172.80 L828.70,179.80 L825.70,179.80 Z" fill="#262626"/>
<path d="M827.20,212.90 L825.70,205.90 L828.70,205.90 Z" fill="#262626"/>
<text x="0" y="0" font-size="15" text-anchor="middle" dominant-baseline="central" transform="translate(819.00,152.50) rotate(-90)">Pt</text>
<text x="0" y="0" font-size="15" text-anchor="middle" dominant-baseline="central" transform="translate(819.00,192.40) rotate(-90)">Pt</text></svg>
<div class="r" style="left:14px;top:381.8px;width:850px;height:19.8px;background:#e3eef0;"></div>
<div class="r" style="left:14px;top:403.15px;width:850px;height:21.4px;background:#f7f7f7;"></div>
<div class="r" style="left:14px;top:426.43px;width:850px;height:18.4px;background:#e3eef0;"></div>
<div class="r" style="left:14px;top:446.69px;width:850px;height:21.4px;background:#f7f7f7;"></div>
<div class="r" style="left:14px;top:469.96px;width:850px;height:18.4px;background:#e3eef0;"></div>
<div class="r" style="left:14px;top:490.24px;width:850px;height:21.4px;background:#f7f7f7;"></div>
<div class="r" style="left:14px;top:513.5px;width:850px;height:18.4px;background:#e3eef0;"></div>
<div class="r" style="left:14px;top:533.77px;width:850px;height:21.4px;background:#f7f7f7;"></div>
<div class="r" style="left:14px;top:557.04px;width:850px;height:18.4px;background:#e3eef0;"></div>
<div class="r" style="left:14px;top:577.32px;width:850px;height:21.4px;background:#f7f7f7;"></div>
<div class="r" style="left:14px;top:600.59px;width:850px;height:18.4px;background:#e3eef0;"></div>
<div class="r" style="left:14px;top:620.86px;width:850px;height:21.4px;background:#f7f7f7;"></div>
<div class="r" style="left:14px;top:644.12px;width:850px;height:18.4px;background:#e3eef0;"></div>
<div class="r" style="left:14px;top:664.39px;width:850px;height:21.4px;background:#f7f7f7;"></div>
<div class="r" style="left:14px;top:687.66px;width:850px;height:18.4px;background:#e3eef0;"></div>
<div class="r" style="left:14px;top:707.93px;width:850px;height:21.4px;background:#f7f7f7;"></div>
<div class="r" style="left:14px;top:731.2px;width:850px;height:18.4px;background:#e3eef0;"></div>
<div class="r" style="left:14px;top:751.47px;width:850px;height:20.13px;background:#f7f7f7;"></div>
<div class="r" style="left:101px;top:325px;width:46px;height:32.6px;background:#e4e4e4;"></div>
<div class="r" style="left:150px;top:325px;width:58px;height:32.6px;background:#e4e4e4;"></div>
<div class="r" style="left:211px;top:325px;width:70px;height:32.6px;background:#e4e4e4;"></div>
<div class="r" style="left:284px;top:325px;width:56px;height:32.6px;background:#e4e4e4;"></div>
<div class="r" style="left:343px;top:325px;width:40px;height:32.6px;background:#e4e4e4;"></div>
<div class="r" style="left:386px;top:325px;width:40px;height:32.6px;background:#e4e4e4;"></div>
<div class="r" style="left:429px;top:325px;width:70px;height:32.6px;background:#e4e4e4;"></div>
<div class="r" style="left:502px;top:325px;width:57px;height:32.6px;background:#e4e4e4;"></div>
<div class="r" style="left:562px;top:325px;width:66px;height:32.6px;background:#e4e4e4;"></div>
<div class="r" style="left:631px;top:325px;width:90px;height:32.6px;background:#e4e4e4;"></div>
<div class="r" style="left:724px;top:325px;width:80px;height:32.6px;background:#e4e4e4;"></div>
<div class="r" style="left:807px;top:325px;width:57px;height:32.6px;background:#e4e4e4;"></div>
<div class="r" style="left:14px;top:255.4px;width:850px;height:0.6px;background:#a9c6c7;"></div>
<div class="r" style="left:14px;top:256px;width:850px;height:1px;background:#6f9fa1;"></div>
<div class="r" style="left:14px;top:257px;width:850px;height:1px;background:#bde5e5;"></div>
<div class="r" style="left:14px;top:380.2px;width:850px;height:1.5px;background:#4a4343;"></div>
<div class="r" style="left:99px;top:254.5px;width:1px;height:517.1px;background:#2e2e2e;"></div>
<div class="r" style="left:148px;top:254.5px;width:1px;height:517.1px;background:#2e2e2e;"></div>
<div class="r" style="left:209px;top:254.5px;width:1px;height:517.1px;background:#2e2e2e;"></div>
<div class="r" style="left:281px;top:254.5px;width:2px;height:517.1px;background:#7a7a7a;"></div>
<div class="r" style="left:340px;top:254.5px;width:2px;height:517.1px;background:#727272;"></div>
<div class="r" style="left:384px;top:325px;width:1px;height:446.6px;background:#3e3e3e;"></div>
<div class="r" style="left:427px;top:254.5px;width:1px;height:517.1px;background:#363636;"></div>
<div class="r" style="left:499px;top:254.5px;width:2px;height:517.1px;background:#6e6e6e;"></div>
<div class="r" style="left:560px;top:254.5px;width:2px;height:517.1px;background:#6c6c6c;"></div>
<div class="r" style="left:628px;top:254.5px;width:2px;height:517.1px;background:#7c7c7c;"></div>
<div class="r" style="left:722px;top:254.5px;width:1px;height:517.1px;background:#3c3c3c;"></div>
<div class="r" style="left:804px;top:254.5px;width:2px;height:517.1px;background:#7a7a7a;"></div>
<div class="tc" style="left:64.0px;width:120px;text-align:center;top:261.5px;">节距</div>
<div class="t" style="left:64.0px;width:120px;text-align:center;top:291.5px;">Pitch</div>
<div class="tc" style="left:119.0px;width:120px;text-align:center;top:261.5px;">滚子直径</div>
<div class="t" style="left:119.0px;width:120px;text-align:center;top:276.8px;">Roller</div>
<div class="t" style="left:119.0px;width:120px;text-align:center;top:291.5px;">diameter</div>
<div class="tc" style="left:186.0px;width:120px;text-align:center;top:261.5px;">内节内宽</div>
<div class="t" style="left:186.0px;width:120px;text-align:center;top:276.8px;">Width</div>
<div class="t" style="left:186.0px;width:120px;text-align:center;top:291.5px;">between</div>
<div class="t" style="left:186.0px;width:120px;text-align:center;top:306.1px;">inner plates</div>
<div class="tc" style="left:252.0px;width:120px;text-align:center;top:261.5px;">销轴直径</div>
<div class="t" style="left:252.0px;width:120px;text-align:center;top:276.8px;">Pin</div>
<div class="t" style="left:252.0px;width:120px;text-align:center;top:291.5px;">diameter</div>
<div class="tc" style="left:404.0px;width:120px;text-align:center;top:261.5px;">内链板高度</div>
<div class="t" style="left:404.0px;width:120px;text-align:center;top:276.8px;">Inner</div>
<div class="t" style="left:404.0px;width:120px;text-align:center;top:291.5px;">plate</div>
<div class="t" style="left:404.0px;width:120px;text-align:center;top:306.1px;">depth</div>
<div class="tc" style="left:470.5px;width:120px;text-align:center;top:261.5px;">链板厚度</div>
<div class="t" style="left:470.5px;width:120px;text-align:center;top:276.8px;">Plate</div>
<div class="t" style="left:470.5px;width:120px;text-align:center;top:291.5px;">thickness</div>
<div class="tc" style="left:535.0px;width:120px;text-align:center;top:261.5px;">排距</div>
<div class="t" style="left:535.0px;width:120px;text-align:center;top:276.8px;">Transverse</div>
<div class="t" style="left:535.0px;width:120px;text-align:center;top:291.5px;">pitch</div>
<div class="tc" style="left:616.0px;width:120px;text-align:center;top:261.5px;">抗拉强度</div>
<div class="t" style="left:616.0px;width:120px;text-align:center;top:276.8px;">Tensile</div>
<div class="t" style="left:616.0px;width:120px;text-align:center;top:291.5px;">strength</div>
<div class="tc" style="left:704.0px;width:120px;text-align:center;top:261.5px;">平均抗拉强度</div>
<div class="t" style="left:704.0px;width:120px;text-align:center;top:276.8px;">Average</div>
<div class="t" style="left:704.0px;width:120px;text-align:center;top:291.5px;">tensile</div>
<div class="t" style="left:704.0px;width:120px;text-align:center;top:306.1px;">strength</div>
<div class="tc" style="left:775.0px;width:120px;text-align:center;top:261.5px;">每米长重</div>
<div class="t" style="left:775.0px;width:120px;text-align:center;top:276.8px;">Weight</div>
<div class="t" style="left:775.0px;width:120px;text-align:center;top:291.5px;">per</div>
<div class="t" style="left:775.0px;width:120px;text-align:center;top:306.1px;">meter</div>
<div class="tc" style="left:324.5px;width:120px;text-align:center;top:261.5px;">销轴长度</div>
<div class="t" style="left:324.5px;width:120px;text-align:center;top:276.8px;">Pin</div>
<div class="t" style="left:324.5px;width:120px;text-align:center;top:291.5px;">length</div>
<div class="t" style="left:-6.8px;width:120px;text-align:center;top:308.7px;">Chain No.</div>
<div class="t" style="left:64.0px;width:120px;text-align:center;top:331.5px;"><span class="s"></span>P</div>
<div class="t" style="left:119.0px;width:120px;text-align:center;top:325.8px;">d<span class="s">1</span></div>
<div class="t" style="left:119.0px;width:120px;text-align:center;top:339.0px;">max</div>
<div class="t" style="left:186.0px;width:120px;text-align:center;top:325.8px;">b<span class="s">1</span></div>
<div class="t" style="left:186.0px;width:120px;text-align:center;top:339.0px;">min</div>
<div class="t" style="left:252.0px;width:120px;text-align:center;top:325.8px;">d<span class="s">2</span></div>
<div class="t" style="left:252.0px;width:120px;text-align:center;top:339.0px;">max</div>
<div class="t" style="left:303.0px;width:120px;text-align:center;top:325.8px;">L</div>
<div class="t" style="left:303.0px;width:120px;text-align:center;top:339.0px;">max</div>
<div class="t" style="left:346.0px;width:120px;text-align:center;top:325.8px;">Lc</div>
<div class="t" style="left:346.0px;width:120px;text-align:center;top:339.0px;">max</div>
<div class="t" style="left:404.0px;width:120px;text-align:center;top:325.8px;">h<span class="s">2</span></div>
<div class="t" style="left:404.0px;width:120px;text-align:center;top:339.0px;">max</div>
<div class="t" style="left:470.5px;width:120px;text-align:center;top:333.9px;">T</div>
<div class="t" style="left:535.0px;width:120px;text-align:center;top:333.9px;">Pt</div>
<div class="t" style="left:616.0px;width:120px;text-align:center;top:325.8px;">Q</div>
<div class="t" style="left:616.0px;width:120px;text-align:center;top:339.0px;">min</div>
<div class="t" style="left:704.0px;width:120px;text-align:center;top:333.9px;">Q<span class="s">0</span></div>
<div class="t" style="left:775.0px;width:120px;text-align:center;top:333.9px;">q</div>
<div class="t" style="left:64.0px;width:120px;text-align:center;top:361.8px;">mm</div>
<div class="t" style="left:119.0px;width:120px;text-align:center;top:361.8px;">mm</div>
<div class="t" style="left:186.0px;width:120px;text-align:center;top:361.8px;">mm</div>
<div class="t" style="left:252.0px;width:120px;text-align:center;top:361.8px;">mm</div>
<div class="t" style="left:303.0px;width:120px;text-align:center;top:361.8px;">mm</div>
<div class="t" style="left:346.0px;width:120px;text-align:center;top:361.8px;">mm</div>
<div class="t" style="left:404.0px;width:120px;text-align:center;top:361.8px;">mm</div>
<div class="t" style="left:470.5px;width:120px;text-align:center;top:361.8px;">mm</div>
<div class="t" style="left:535.0px;width:120px;text-align:center;top:361.8px;">mm</div>
<div class="t" style="left:616.0px;width:120px;text-align:center;top:361.8px;">kN/lbf</div>
<div class="t" style="left:704.0px;width:120px;text-align:center;top:361.8px;">kN</div>
<div class="t" style="left:775.0px;width:120px;text-align:center;top:361.8px;">kg/m</div>
<div class="t rr" style="right:791.2px;text-align:right;top:383.7px;">80<span style="letter-spacing:.55px">HSP</span><span style="margin:0 1.1px 0 .6px">-</span>1</div>
<div class="t rr" style="right:733.4px;text-align:right;top:383.7px;">25.40</div>
<div class="t rr" style="right:680.7px;text-align:right;top:383.7px;">15.88</div>
<div class="t rr" style="right:614.4px;text-align:right;top:383.7px;">15.75</div>
<div class="t rr" style="right:549.3px;text-align:right;top:383.7px;">7.94</div>
<div class="t rr" style="right:500.5px;text-align:right;top:383.7px;">36.2</div>
<div class="t rr" style="right:455.9px;text-align:right;top:383.7px;">38.9</div>
<div class="t rr" style="right:397.8px;text-align:right;top:383.7px;">24.1</div>
<div class="t rr" style="right:335.9px;text-align:right;top:383.7px;">4.0</div>
<div class="t" style="left:535.4px;width:120px;text-align:center;top:383.7px;">-</div>
<div class="t" style="left:616.0px;width:120px;text-align:center;top:383.7px;">89.2/20066</div>
<div class="t rr" style="right:95.0px;text-align:right;top:383.7px;">98.1</div>
<div class="t rr" style="right:30.0px;text-align:right;top:383.7px;">3.36</div>
<div class="t rr" style="right:791.2px;text-align:right;top:405.5px;">100<span style="letter-spacing:.55px">HSP</span><span style="margin:0 1.1px 0 .6px">-</span>1</div>
<div class="t rr" style="right:733.4px;text-align:right;top:405.5px;">31.75</div>
<div class="t rr" style="right:680.7px;text-align:right;top:405.5px;">19.05</div>
<div class="t rr" style="right:614.4px;text-align:right;top:405.5px;">18.95</div>
<div class="t rr" style="right:549.3px;text-align:right;top:405.5px;">9.54</div>
<div class="t rr" style="right:500.5px;text-align:right;top:405.5px;">43.6</div>
<div class="t rr" style="right:455.9px;text-align:right;top:405.5px;">46.9</div>
<div class="t rr" style="right:397.8px;text-align:right;top:405.5px;">30.1</div>
<div class="t rr" style="right:335.9px;text-align:right;top:405.5px;">4.8</div>
<div class="t" style="left:535.4px;width:120px;text-align:center;top:405.5px;">-</div>
<div class="t" style="left:616.0px;width:120px;text-align:center;top:405.5px;">131.8/29649</div>
<div class="t rr" style="right:95.0px;text-align:right;top:405.5px;">145.0</div>
<div class="t rr" style="right:30.0px;text-align:right;top:405.5px;">4.90</div>
<div class="t rr" style="right:791.2px;text-align:right;top:427.3px;">120<span style="letter-spacing:.55px">HSP</span><span style="margin:0 1.1px 0 .6px">-</span>1</div>
<div class="t rr" style="right:733.4px;text-align:right;top:427.3px;">38.10</div>
<div class="t rr" style="right:680.7px;text-align:right;top:427.3px;">22.23</div>
<div class="t rr" style="right:614.4px;text-align:right;top:427.3px;">25.22</div>
<div class="t rr" style="right:549.3px;text-align:right;top:427.3px;">11.11</div>
<div class="t rr" style="right:500.5px;text-align:right;top:427.3px;">53.5</div>
<div class="t rr" style="right:455.9px;text-align:right;top:427.3px;">57.5</div>
<div class="t rr" style="right:397.8px;text-align:right;top:427.3px;">36.2</div>
<div class="t rr" style="right:335.9px;text-align:right;top:427.3px;">5.6</div>
<div class="t" style="left:535.4px;width:120px;text-align:center;top:427.3px;">-</div>
<div class="t" style="left:616.0px;width:120px;text-align:center;top:427.3px;">176.0/39592</div>
<div class="t rr" style="right:95.0px;text-align:right;top:427.3px;">196.0</div>
<div class="t rr" style="right:30.0px;text-align:right;top:427.3px;">7.12</div>
<div class="t rr" style="right:791.2px;text-align:right;top:449.1px;">140<span style="letter-spacing:.55px">HSP</span><span style="margin:0 1.1px 0 .6px">-</span>1</div>
<div class="t rr" style="right:733.4px;text-align:right;top:449.1px;">44.45</div>
<div class="t rr" style="right:680.7px;text-align:right;top:449.1px;">25.40</div>
<div class="t rr" style="right:614.4px;text-align:right;top:449.1px;">25.22</div>
<div class="t rr" style="right:549.3px;text-align:right;top:449.1px;">12.71</div>
<div class="t rr" style="right:500.5px;text-align:right;top:449.1px;">57.6</div>
<div class="t rr" style="right:455.9px;text-align:right;top:449.1px;">62.2</div>
<div class="t rr" style="right:397.8px;text-align:right;top:449.1px;">42.2</div>
<div class="t rr" style="right:335.9px;text-align:right;top:449.1px;">6.4</div>
<div class="t" style="left:535.4px;width:120px;text-align:center;top:449.1px;">-</div>
<div class="t" style="left:616.0px;width:120px;text-align:center;top:449.1px;">231.9/52149</div>
<div class="t rr" style="right:95.0px;text-align:right;top:449.1px;">255.0</div>
<div class="t rr" style="right:30.0px;text-align:right;top:449.1px;">8.88</div>
<div class="t rr" style="right:791.2px;text-align:right;top:470.8px;">160<span style="letter-spacing:.55px">HSP</span><span style="margin:0 1.1px 0 .6px">-</span>1</div>
<div class="t rr" style="right:733.4px;text-align:right;top:470.8px;">50.80</div>
<div class="t rr" style="right:680.7px;text-align:right;top:470.8px;">28.58</div>
<div class="t rr" style="right:614.4px;text-align:right;top:470.8px;">31.55</div>
<div class="t rr" style="right:549.3px;text-align:right;top:470.8px;">14.29</div>
<div class="t rr" style="right:500.5px;text-align:right;top:470.8px;">68.2</div>
<div class="t rr" style="right:455.9px;text-align:right;top:470.8px;">73.0</div>
<div class="t rr" style="right:397.8px;text-align:right;top:470.8px;">48.2</div>
<div class="t rr" style="right:335.9px;text-align:right;top:470.8px;">7.2</div>
<div class="t" style="left:535.4px;width:120px;text-align:center;top:470.8px;">-</div>
<div class="t" style="left:616.0px;width:120px;text-align:center;top:470.8px;">294.5/66260</div>
<div class="t rr" style="right:95.0px;text-align:right;top:470.8px;">324.0</div>
<div class="t rr" style="right:30.0px;text-align:right;top:470.8px;">11.72</div>
<div class="t rr" style="right:791.2px;text-align:right;top:492.6px;">200<span style="letter-spacing:.55px">HSP</span><span style="margin:0 1.1px 0 .6px">-</span>1</div>
<div class="t rr" style="right:733.4px;text-align:right;top:492.6px;">63.50</div>
<div class="t rr" style="right:680.7px;text-align:right;top:492.6px;">39.68</div>
<div class="t rr" style="right:614.4px;text-align:right;top:492.6px;">37.85</div>
<div class="t rr" style="right:549.3px;text-align:right;top:492.6px;">19.85</div>
<div class="t rr" style="right:500.5px;text-align:right;top:492.6px;">86.6</div>
<div class="t rr" style="right:455.9px;text-align:right;top:492.6px;">93.5</div>
<div class="t rr" style="right:397.8px;text-align:right;top:492.6px;">60.3</div>
<div class="t rr" style="right:335.9px;text-align:right;top:492.6px;">9.5</div>
<div class="t" style="left:535.4px;width:120px;text-align:center;top:492.6px;">-</div>
<div class="t" style="left:616.0px;width:120px;text-align:center;top:492.6px;">543.6/122295</div>
<div class="t rr" style="right:95.0px;text-align:right;top:492.6px;">598.0</div>
<div class="t rr" style="right:30.0px;text-align:right;top:492.6px;">19.80</div>
<div class="t rr" style="right:791.2px;text-align:right;top:514.4px;">80<span style="letter-spacing:.55px">HSP</span><span style="margin:0 1.1px 0 .6px">-</span>2</div>
<div class="t rr" style="right:733.4px;text-align:right;top:514.4px;">25.40</div>
<div class="t rr" style="right:680.7px;text-align:right;top:514.4px;">15.88</div>
<div class="t rr" style="right:614.4px;text-align:right;top:514.4px;">15.75</div>
<div class="t rr" style="right:549.3px;text-align:right;top:514.4px;">7.94</div>
<div class="t rr" style="right:500.5px;text-align:right;top:514.4px;">68.8</div>
<div class="t rr" style="right:455.9px;text-align:right;top:514.4px;">72.0</div>
<div class="t rr" style="right:397.8px;text-align:right;top:514.4px;">24.1</div>
<div class="t rr" style="right:335.9px;text-align:right;top:514.4px;">4.0</div>
<div class="t" style="left:535.4px;width:120px;text-align:center;top:514.4px;">32.59</div>
<div class="t" style="left:616.0px;width:120px;text-align:center;top:514.4px;">178.4/40132</div>
<div class="t rr" style="right:95.0px;text-align:right;top:514.4px;">196.2</div>
<div class="t rr" style="right:30.0px;text-align:right;top:514.4px;">6.65</div>
<div class="t rr" style="right:791.2px;text-align:right;top:536.1px;">100<span style="letter-spacing:.55px">HSP</span><span style="margin:0 1.1px 0 .6px">-</span>2</div>
<div class="t rr" style="right:733.4px;text-align:right;top:536.1px;">31.75</div>
<div class="t rr" style="right:680.7px;text-align:right;top:536.1px;">19.05</div>
<div class="t rr" style="right:614.4px;text-align:right;top:536.1px;">18.95</div>
<div class="t rr" style="right:549.3px;text-align:right;top:536.1px;">9.54</div>
<div class="t rr" style="right:500.5px;text-align:right;top:536.1px;">82.7</div>
<div class="t rr" style="right:455.9px;text-align:right;top:536.1px;">86.0</div>
<div class="t rr" style="right:397.8px;text-align:right;top:536.1px;">30.1</div>
<div class="t rr" style="right:335.9px;text-align:right;top:536.1px;">4.8</div>
<div class="t" style="left:535.4px;width:120px;text-align:center;top:536.1px;">39.09</div>
<div class="t" style="left:616.0px;width:120px;text-align:center;top:536.1px;">263.6/59299</div>
<div class="t rr" style="right:95.0px;text-align:right;top:536.1px;">290.0</div>
<div class="t rr" style="right:30.0px;text-align:right;top:536.1px;">9.71</div>
<div class="t rr" style="right:791.2px;text-align:right;top:557.9px;">120<span style="letter-spacing:.55px">HSP</span><span style="margin:0 1.1px 0 .6px">-</span>2</div>
<div class="t rr" style="right:733.4px;text-align:right;top:557.9px;">38.10</div>
<div class="t rr" style="right:680.7px;text-align:right;top:557.9px;">22.23</div>
<div class="t rr" style="right:614.4px;text-align:right;top:557.9px;">25.22</div>
<div class="t rr" style="right:549.3px;text-align:right;top:557.9px;">11.11</div>
<div class="t rr" style="right:500.5px;text-align:right;top:557.9px;">102.4</div>
<div class="t rr" style="right:455.9px;text-align:right;top:557.9px;">106.4</div>
<div class="t rr" style="right:397.8px;text-align:right;top:557.9px;">36.2</div>
<div class="t rr" style="right:335.9px;text-align:right;top:557.9px;">5.6</div>
<div class="t" style="left:535.4px;width:120px;text-align:center;top:557.9px;">48.87</div>
<div class="t" style="left:616.0px;width:120px;text-align:center;top:557.9px;">356.4/80175</div>
<div class="t rr" style="right:95.0px;text-align:right;top:557.9px;">392.0</div>
<div class="t rr" style="right:30.0px;text-align:right;top:557.9px;">14.12</div>
<div class="t rr" style="right:791.2px;text-align:right;top:579.7px;">140<span style="letter-spacing:.55px">HSP</span><span style="margin:0 1.1px 0 .6px">-</span>2</div>
<div class="t rr" style="right:733.4px;text-align:right;top:579.7px;">44.45</div>
<div class="t rr" style="right:680.7px;text-align:right;top:579.7px;">25.40</div>
<div class="t rr" style="right:614.4px;text-align:right;top:579.7px;">25.22</div>
<div class="t rr" style="right:549.3px;text-align:right;top:579.7px;">12.71</div>
<div class="t rr" style="right:500.5px;text-align:right;top:579.7px;">109.8</div>
<div class="t rr" style="right:455.9px;text-align:right;top:579.7px;">114.4</div>
<div class="t rr" style="right:397.8px;text-align:right;top:579.7px;">42.2</div>
<div class="t rr" style="right:335.9px;text-align:right;top:579.7px;">6.4</div>
<div class="t" style="left:535.4px;width:120px;text-align:center;top:579.7px;">52.20</div>
<div class="t" style="left:616.0px;width:120px;text-align:center;top:579.7px;">463.6/104300</div>
<div class="t rr" style="right:95.0px;text-align:right;top:579.7px;">510.0</div>
<div class="t rr" style="right:30.0px;text-align:right;top:579.7px;">17.38</div>
<div class="t rr" style="right:791.2px;text-align:right;top:601.4px;">160<span style="letter-spacing:.55px">HSP</span><span style="margin:0 1.1px 0 .6px">-</span>2</div>
<div class="t rr" style="right:733.4px;text-align:right;top:601.4px;">50.80</div>
<div class="t rr" style="right:680.7px;text-align:right;top:601.4px;">28.58</div>
<div class="t rr" style="right:614.4px;text-align:right;top:601.4px;">31.55</div>
<div class="t rr" style="right:549.3px;text-align:right;top:601.4px;">14.29</div>
<div class="t rr" style="right:500.5px;text-align:right;top:601.4px;">130.1</div>
<div class="t rr" style="right:455.9px;text-align:right;top:601.4px;">134.9</div>
<div class="t rr" style="right:397.8px;text-align:right;top:601.4px;">48.2</div>
<div class="t rr" style="right:335.9px;text-align:right;top:601.4px;">7.2</div>
<div class="t" style="left:535.4px;width:120px;text-align:center;top:601.4px;">61.90</div>
<div class="t" style="left:616.0px;width:120px;text-align:center;top:601.4px;">588.0/132275</div>
<div class="t rr" style="right:95.0px;text-align:right;top:601.4px;">647.0</div>
<div class="t rr" style="right:30.0px;text-align:right;top:601.4px;">23.00</div>
<div class="t rr" style="right:791.2px;text-align:right;top:623.2px;">200<span style="letter-spacing:.55px">HSP</span><span style="margin:0 1.1px 0 .6px">-</span>2</div>
<div class="t rr" style="right:733.4px;text-align:right;top:623.2px;">63.50</div>
<div class="t rr" style="right:680.7px;text-align:right;top:623.2px;">39.68</div>
<div class="t rr" style="right:614.4px;text-align:right;top:623.2px;">37.85</div>
<div class="t rr" style="right:549.3px;text-align:right;top:623.2px;">19.85</div>
<div class="t rr" style="right:500.5px;text-align:right;top:623.2px;">164.9</div>
<div class="t rr" style="right:455.9px;text-align:right;top:623.2px;">171.8</div>
<div class="t rr" style="right:397.8px;text-align:right;top:623.2px;">60.3</div>
<div class="t rr" style="right:335.9px;text-align:right;top:623.2px;">9.5</div>
<div class="t" style="left:535.4px;width:120px;text-align:center;top:623.2px;">78.31</div>
<div class="t" style="left:616.0px;width:120px;text-align:center;top:623.2px;">1091.0/245429</div>
<div class="t rr" style="right:95.0px;text-align:right;top:623.2px;">1200.0</div>
<div class="t rr" style="right:30.0px;text-align:right;top:623.2px;">38.50</div>
<div class="t rr" style="right:791.2px;text-align:right;top:645.0px;">80<span style="letter-spacing:.55px">HSP</span><span style="margin:0 1.1px 0 .6px">-</span>3</div>
<div class="t rr" style="right:733.4px;text-align:right;top:645.0px;">25.40</div>
<div class="t rr" style="right:680.7px;text-align:right;top:645.0px;">15.88</div>
<div class="t rr" style="right:614.4px;text-align:right;top:645.0px;">15.75</div>
<div class="t rr" style="right:549.3px;text-align:right;top:645.0px;">7.94</div>
<div class="t rr" style="right:500.5px;text-align:right;top:645.0px;">101.4</div>
<div class="t rr" style="right:455.9px;text-align:right;top:645.0px;">104.6</div>
<div class="t rr" style="right:397.8px;text-align:right;top:645.0px;">24.1</div>
<div class="t rr" style="right:335.9px;text-align:right;top:645.0px;">4.0</div>
<div class="t" style="left:535.4px;width:120px;text-align:center;top:645.0px;">32.59</div>
<div class="t" style="left:616.0px;width:120px;text-align:center;top:645.0px;">267.6/60200</div>
<div class="t rr" style="right:95.0px;text-align:right;top:645.0px;">294.3</div>
<div class="t rr" style="right:30.0px;text-align:right;top:645.0px;">9.95</div>
<div class="t rr" style="right:791.2px;text-align:right;top:666.8px;">100<span style="letter-spacing:.55px">HSP</span><span style="margin:0 1.1px 0 .6px">-</span>3</div>
<div class="t rr" style="right:733.4px;text-align:right;top:666.8px;">31.75</div>
<div class="t rr" style="right:680.7px;text-align:right;top:666.8px;">19.05</div>
<div class="t rr" style="right:614.4px;text-align:right;top:666.8px;">18.95</div>
<div class="t rr" style="right:549.3px;text-align:right;top:666.8px;">9.54</div>
<div class="t rr" style="right:500.5px;text-align:right;top:666.8px;">121.8</div>
<div class="t rr" style="right:455.9px;text-align:right;top:666.8px;">125.1</div>
<div class="t rr" style="right:397.8px;text-align:right;top:666.8px;">30.1</div>
<div class="t rr" style="right:335.9px;text-align:right;top:666.8px;">4.8</div>
<div class="t" style="left:535.4px;width:120px;text-align:center;top:666.8px;">39.09</div>
<div class="t" style="left:616.0px;width:120px;text-align:center;top:666.8px;">395.4/88948</div>
<div class="t rr" style="right:95.0px;text-align:right;top:666.8px;">435.0</div>
<div class="t rr" style="right:30.0px;text-align:right;top:666.8px;">14.53</div>
<div class="t rr" style="right:791.2px;text-align:right;top:688.5px;">120<span style="letter-spacing:.55px">HSP</span><span style="margin:0 1.1px 0 .6px">-</span>3</div>
<div class="t rr" style="right:733.4px;text-align:right;top:688.5px;">38.10</div>
<div class="t rr" style="right:680.7px;text-align:right;top:688.5px;">22.23</div>
<div class="t rr" style="right:614.4px;text-align:right;top:688.5px;">25.22</div>
<div class="t rr" style="right:549.3px;text-align:right;top:688.5px;">11.11</div>
<div class="t rr" style="right:500.5px;text-align:right;top:688.5px;">151.2</div>
<div class="t rr" style="right:455.9px;text-align:right;top:688.5px;">155.2</div>
<div class="t rr" style="right:397.8px;text-align:right;top:688.5px;">36.2</div>
<div class="t rr" style="right:335.9px;text-align:right;top:688.5px;">5.6</div>
<div class="t" style="left:535.4px;width:120px;text-align:center;top:688.5px;">48.87</div>
<div class="t" style="left:616.0px;width:120px;text-align:center;top:688.5px;">534.5/120250</div>
<div class="t rr" style="right:95.0px;text-align:right;top:688.5px;">588.0</div>
<div class="t rr" style="right:30.0px;text-align:right;top:688.5px;">21.12</div>
<div class="t rr" style="right:791.2px;text-align:right;top:710.3px;">140<span style="letter-spacing:.55px">HSP</span><span style="margin:0 1.1px 0 .6px">-</span>3</div>
<div class="t rr" style="right:733.4px;text-align:right;top:710.3px;">44.45</div>
<div class="t rr" style="right:680.7px;text-align:right;top:710.3px;">25.40</div>
<div class="t rr" style="right:614.4px;text-align:right;top:710.3px;">25.22</div>
<div class="t rr" style="right:549.3px;text-align:right;top:710.3px;">12.71</div>
<div class="t rr" style="right:500.5px;text-align:right;top:710.3px;">162.0</div>
<div class="t rr" style="right:455.9px;text-align:right;top:710.3px;">166.6</div>
<div class="t rr" style="right:397.8px;text-align:right;top:710.3px;">42.2</div>
<div class="t rr" style="right:335.9px;text-align:right;top:710.3px;">6.4</div>
<div class="t" style="left:535.4px;width:120px;text-align:center;top:710.3px;">52.20</div>
<div class="t" style="left:616.0px;width:120px;text-align:center;top:710.3px;">695.5/156448</div>
<div class="t rr" style="right:95.0px;text-align:right;top:710.3px;">765.0</div>
<div class="t rr" style="right:30.0px;text-align:right;top:710.3px;">25.88</div>
<div class="t rr" style="right:791.2px;text-align:right;top:732.1px;">160<span style="letter-spacing:.55px">HSP</span><span style="margin:0 1.1px 0 .6px">-</span>3</div>
<div class="t rr" style="right:733.4px;text-align:right;top:732.1px;">50.80</div>
<div class="t rr" style="right:680.7px;text-align:right;top:732.1px;">28.58</div>
<div class="t rr" style="right:614.4px;text-align:right;top:732.1px;">31.55</div>
<div class="t rr" style="right:549.3px;text-align:right;top:732.1px;">14.29</div>
<div class="t rr" style="right:500.5px;text-align:right;top:732.1px;">192.0</div>
<div class="t rr" style="right:455.9px;text-align:right;top:732.1px;">196.8</div>
<div class="t rr" style="right:397.8px;text-align:right;top:732.1px;">48.2</div>
<div class="t rr" style="right:335.9px;text-align:right;top:732.1px;">7.2</div>
<div class="t" style="left:535.4px;width:120px;text-align:center;top:732.1px;">61.90</div>
<div class="t" style="left:616.0px;width:120px;text-align:center;top:732.1px;">882.7/198576</div>
<div class="t rr" style="right:95.0px;text-align:right;top:732.1px;">971.0</div>
<div class="t rr" style="right:30.0px;text-align:right;top:732.1px;">34.22</div>
<div class="t rr" style="right:791.2px;text-align:right;top:753.8px;">200<span style="letter-spacing:.55px">HSP</span><span style="margin:0 1.1px 0 .6px">-</span>3</div>
<div class="t rr" style="right:733.4px;text-align:right;top:753.8px;">63.50</div>
<div class="t rr" style="right:680.7px;text-align:right;top:753.8px;">39.68</div>
<div class="t rr" style="right:614.4px;text-align:right;top:753.8px;">37.85</div>
<div class="t rr" style="right:549.3px;text-align:right;top:753.8px;">19.85</div>
<div class="t rr" style="right:500.5px;text-align:right;top:753.8px;">243.2</div>
<div class="t rr" style="right:455.9px;text-align:right;top:753.8px;">250.1</div>
<div class="t rr" style="right:397.8px;text-align:right;top:753.8px;">60.3</div>
<div class="t rr" style="right:335.9px;text-align:right;top:753.8px;">9.5</div>
<div class="t" style="left:535.4px;width:120px;text-align:center;top:753.8px;">78.31</div>
<div class="t" style="left:616.0px;width:120px;text-align:center;top:753.8px;">1627.3/366073</div>
<div class="t rr" style="right:95.0px;text-align:right;top:753.8px;">1790.0</div>
<div class="t rr" style="right:30.0px;text-align:right;top:753.8px;">57.29</div>
</body></html>
